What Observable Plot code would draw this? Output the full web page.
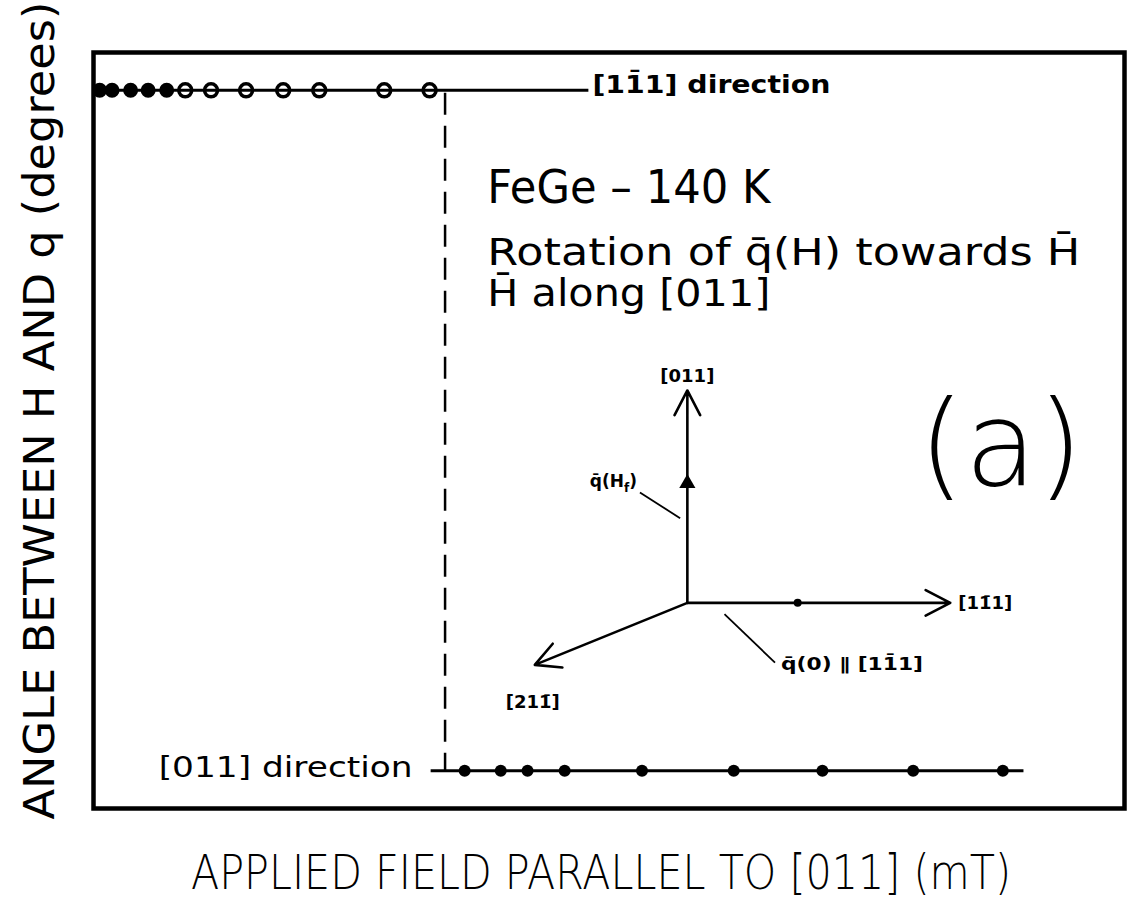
<!DOCTYPE html>
<html>
<head>
<meta charset="utf-8">
<script src="https://cdn.jsdelivr.net/npm/d3@7"></script>
<script src="https://cdn.jsdelivr.net/npm/@observablehq/plot@0.6"></script>
<style>
  html, body { margin: 0; padding: 0; background: #fff; }
  #chart { position: absolute; left: 0; top: 0; }
</style>
</head>
<body>
<div id="chart"></div>
<script>
// FeGe at 140 K: angle between the applied field H (along [011]) and the helix vector q
// Low-field branch: q stays along [1-11] (90 degrees to H)
const lowField = [6, 18, 36, 53, 71, 89, 114, 148, 184, 219, 282, 326];
const lowAngle = [90, 90, 90, 90, 90, 90, 90, 90, 90, 90, 90, 90];
// High-field branch: q has jumped to [011] (parallel to H)
const highField = [360, 395, 421, 457, 532, 621, 707, 795, 882];
const highAngle = [0, 0, 0, 0, 0, 0, 0, 0, 0];
// Field at which q flips from [1-11] to [011]
const transitionField = [341];

// Guide lines through each branch, with their direction labels
const branchName = ["[11\u03041] direction", "[011] direction"];
const branchFrom = [0, 327];
const branchTo = [480, 902];
const branchAngle = [90, 0];

// Text
const yLabel = "ANGLE BETWEEN H AND q (degrees)";
const xLabel = "APPLIED FIELD PARALLEL TO [011] (mT)";
const titleLines = ["FeGe \u2013 140 K", "Rotation of q\u0304(H) towards H\u0304", "H\u0304 along [011]"];
const panelTag = "(a)";

// Inset sketch of the crystal axes (drawn in the chart's own field/angle units)
const insetOrigin = [576, 22.2];
const axisName = ["[011]", "[11\u03041]", "[211\u0304]"];
const axisTipField = [576, 831, 428];
const axisTipAngle = [50.3, 22.2, 14.0];
const qField = [576];        // q(H_f) arrow, along [011]
const qAngle = [38.0];
const q0Field = [683];       // q(0) marker, along [1-11]
const q0Angle = [22.2];
const leaderName = ["q\u0304(H_f)", "q\u0304(0) \u2225 [11\u03041]"];
const leaderFromField = [530, 612];
const leaderFromAngle = [36.8, 20.7];
const leaderToField = [569, 661];
const leaderToAngle = [33.4, 14.3];

const lowBranch = lowField.map((x, i) => ({field: x, angle: lowAngle[i]}));
const highBranch = highField.map((x, i) => ({field: x, angle: highAngle[i]}));
const branches = branchName.map((n, i) => ({from: branchFrom[i], to: branchTo[i], angle: branchAngle[i]}));
const axes = axisName.map((n, i) => ({name: n, x: axisTipField[i], y: axisTipAngle[i]}));
const leaders = leaderName.map((n, i) => ({
  name: n, x1: leaderFromField[i], y1: leaderFromAngle[i], x2: leaderToField[i], y2: leaderToAngle[i]
}));

const ink = "#000";
const chart = Plot.plot({
  width: 1136,
  height: 921,
  marginLeft: 93,
  marginRight: 12,
  marginTop: 52,
  marginBottom: 113,
  style: {fontFamily: "DejaVu Sans, sans-serif", background: "#fff", color: ink},
  x: {domain: [0, 1000], axis: null},
  y: {domain: [-5, 95], axis: null},
  marks: [
    Plot.frame({stroke: ink, strokeWidth: 4.5}),
    // transition marker
    Plot.ruleX(transitionField, {y1: 89.6, y2: 0, stroke: ink, strokeWidth: 2.5, strokeDasharray: "22,11"}),
    // data points
    Plot.dot(lowBranch.slice(0, 5), {x: "field", y: "angle", r: 6.5, fill: ink, stroke: ink, strokeWidth: 2}),
    Plot.dot(lowBranch.slice(5), {x: "field", y: "angle", r: 6.5, fill: "#fff", stroke: ink, strokeWidth: 3.5}),
    Plot.dot(highBranch, {x: "field", y: "angle", r: 6, fill: ink}),
    // guide lines through each branch
    Plot.link(branches, {x1: "from", x2: "to", y1: "angle", y2: "angle", stroke: ink, strokeWidth: 3}),
    Plot.text([branchName[0]], {text: d => d, x: branchTo[0], y: branchAngle[0], textAnchor: "start", dx: 4, dy: -5,
      fontSize: 24, fontWeight: "bold"}),
    Plot.text([branchName[1]], {text: d => d, x: branchFrom[1], y: branchAngle[1], textAnchor: "end", dx: -18, dy: -3,
      fontSize: 28}),
    // title block
    Plot.text([titleLines[0]], {text: d => d, x: 382, y: 77.0, textAnchor: "start", fontSize: 46}),
    Plot.text([titleLines[1]], {text: d => d, x: 382, y: 68.4, textAnchor: "start", fontSize: 37}),
    Plot.text([titleLines[2]], {text: d => d, x: 382, y: 63.0, textAnchor: "start", fontSize: 37}),
    Plot.text([panelTag], {text: d => d, x: 880, y: 42.8, fontSize: 118, fontWeight: 300}),
    // inset: crystal axes
    Plot.arrow(axes, {x1: () => insetOrigin[0], y1: () => insetOrigin[1], x2: "x", y2: "y",
      stroke: ink, strokeWidth: 2.6, headLength: 16, headAngle: 55}),
    Plot.dot(qField.map((x, i) => ({x, y: qAngle[i]})), {x: "x", y: "y", symbol: "triangle", r: 6, fill: ink}),
    Plot.dot(q0Field.map((x, i) => ({x, y: q0Angle[i]})), {x: "x", y: "y", r: 4, fill: ink}),
    Plot.link(leaders, {x1: "x1", y1: "y1", x2: "x2", y2: "y2", stroke: ink, strokeWidth: 1.8}),
    Plot.text([axes[0]], {x: "x", y: "y", text: "name", dy: -14, fontSize: 18, fontWeight: "bold"}),
    Plot.text([axes[1]], {x: "x", y: "y", text: "name", textAnchor: "start", dx: 8, fontSize: 18, fontWeight: "bold"}),
    Plot.text([axes[2]], {x: "x", y: "y", text: "name", dy: 37, dx: -2, fontSize: 18, fontWeight: "bold"}),
    Plot.text([leaders[0]], {x: "x1", y: "y1", text: "name", textAnchor: "end", dx: -3, dy: -11, fontSize: 17, fontWeight: "bold"}),
    Plot.text([leaders[1]], {x: "x2", y: "y2", text: "name", textAnchor: "start", dx: 6, dy: 2, fontSize: 17, fontWeight: "bold"}),
    // axis titles
    Plot.text([yLabel], {text: d => d, frameAnchor: "left", textAnchor: "middle", rotate: -90, dx: -53, dy: -20, fontSize: 42}),
    Plot.text([xLabel], {text: d => d, frameAnchor: "bottom", textAnchor: "middle", dx: -8, dy: 80, fontSize: 48, fontWeight: 300})
  ]
});

document.getElementById("chart").appendChild(chart);

// Fit long labels to their measured widths; anchor them at their start so the
// stretched text stays centred (or right-aligned) where Plot placed it.
const fitWidths = new Map([
  [yLabel, 818], [xLabel, 820],
  [titleLines[0], 283], [titleLines[1], 593], [titleLines[2], 283],
  [branchName[0], 238], [branchName[1], 254], [leaderName[1], 142]
]);
d3.select(chart).selectAll("text").each(function () {
  const w = fitWidths.get(this.textContent);
  if (!w) return;
  const anchor = getComputedStyle(this).textAnchor;
  const x0 = parseFloat(this.getAttribute("x")) || 0;
  const shift = anchor === "middle" ? w / 2 : anchor === "end" ? w : 0;
  this.setAttribute("x", x0 - shift);
  this.setAttribute("text-anchor", "start");
  this.setAttribute("textLength", w);
  this.setAttribute("lengthAdjust", "spacingAndGlyphs");
});

// Subscript in q(H_f)
d3.select(chart).selectAll("text").filter(function () { return this.textContent === leaderName[0]; })
  .each(function () {
    const t = d3.select(this);
    t.text(null);
    t.append("tspan").text("q\u0304(H");
    t.append("tspan").attr("dy", 5).attr("font-size", 12).text("f");
    t.append("tspan").attr("dy", -5).text(")");
  });
</script>
</body>
</html>
